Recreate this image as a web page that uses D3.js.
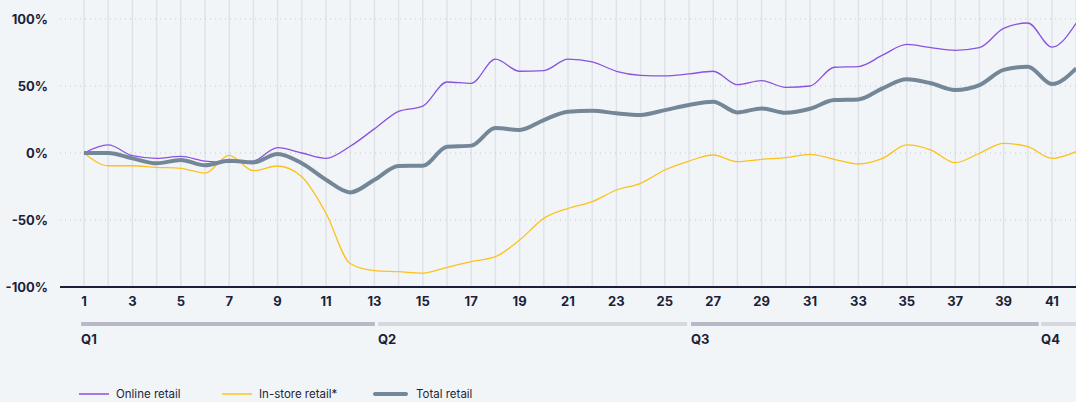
<!DOCTYPE html>
<html>
<head>
<meta charset="utf-8">
<script src="https://cdn.jsdelivr.net/npm/d3@7"></script>
<style>
  html, body { margin: 0; padding: 0; background: #f2f5f8; }
  body { font-family: Inter, "Noto Sans", sans-serif; }
</style>
</head>
<body>
<div id="chart"></div>
<script>
// weeks and series values (% change)
var weeks = d3.range(1, 43);
var online = [0, 6, -2, -4, -2.5, -6, -7, -6, 4, 0, -4, 5, 18, 31, 35, 53, 52, 70, 61, 61.5, 70, 68, 61, 58, 57.5, 59,
  61, 51, 54, 49, 50, 64, 64.5, 73, 81, 78.6, 76.6, 78.6, 93, 97, 79, 97];
var instore = [0, -9.5, -9.5, -10.7, -11.4, -15, -1.7, -13.2, -9.7, -17.7, -45, -82.5, -87.8, -88.6, -89.6, -85.3, -81, -77.4, -65, -48.8, -41.3, -36.3, -27.6, -22.6, -12.7, -6,
  -1.5, -6.5, -4.7, -3.5, -1, -4.7, -8.2, -4, 6, 2.2, -7.2, -0.2, 7.2, 4.7, -4, 1];
var total = [0, 0, -4, -7.7, -5.2, -9.2, -5.7, -7, -0.7, -7.7, -20, -29.4, -20, -9.7, -9.5, 4.7, 5.5, 18.7, 17.2, 24.6, 30.8, 31.6, 29.6, 28.4, 32, 35.8,
  38.3, 30.3, 33.3, 30, 33, 39.5, 40, 48.3, 55, 52, 47, 50.7, 62, 64.4, 51.5, 63.2];
var yTicks = [100, 50, 0, -50, -100];
var quarters = ["Q1", "Q2", "Q3", "Q4"];
var qStart = [0.88, 13.15, 26.08, 40.55];
var qEnd = [13.02, 25.92, 40.45, 53];
var seriesNames = ["Online retail", "In-store retail*", "Total retail"];

var width = 1076, height = 402;
var colors = ["#8a52e0", "#fcc21b", "#748799"];
var widths = [1.3, 1.3, 4];

var svg = d3.select("#chart").append("svg")
  .attr("width", width).attr("height", height)
  .style("display", "block");

var x = d3.scaleLinear().domain([1, 42]).range([84, 1076.2]);
var y = d3.scaleLinear().domain([-100, 100]).range([287, 19]);

// vertical grid lines, one per week
svg.append("g").selectAll("line")
  .data(weeks)
  .join("line")
  .attr("x1", d => x(d)).attr("x2", d => x(d))
  .attr("y1", 0).attr("y2", y(-100))
  .attr("stroke", "#dfe2e8")
  .attr("stroke-width", 1.5);

// dotted horizontal grid
svg.append("g").selectAll("line")
  .data(yTicks.filter(d => d > -100))
  .join("line")
  .attr("x1", 60).attr("x2", width)
  .attr("y1", d => y(d)).attr("y2", d => y(d))
  .attr("stroke", "#c3c8d1")
  .attr("stroke-width", 1)
  .attr("stroke-dasharray", "1,4");

// y labels
svg.append("g").selectAll("text")
  .data(yTicks)
  .join("text")
  .attr("x", 48).attr("y", d => y(d))
  .attr("dy", "0.35em")
  .attr("text-anchor", "end")
  .attr("font-size", 13).attr("font-weight", 700)
  .attr("fill", "#1b1f3a")
  .text(d => d + "%");

// x axis line
svg.append("line")
  .attr("x1", 60).attr("x2", width)
  .attr("y1", y(-100)).attr("y2", y(-100))
  .attr("stroke", "#1b1f3a").attr("stroke-width", 2);

// x labels (odd weeks)
svg.append("g").selectAll("text")
  .data(weeks.filter(d => d % 2 == 1))
  .join("text")
  .attr("x", d => x(d)).attr("y", 301)
  .attr("dy", "0.35em")
  .attr("text-anchor", "middle")
  .attr("font-size", 13).attr("font-weight", 700)
  .attr("fill", "#1b1f3a")
  .text(d => d);

// quarter bars
svg.append("g").selectAll("rect")
  .data(quarters)
  .join("rect")
  .attr("x", (d, i) => x(qStart[i]))
  .attr("width", (d, i) => x(qEnd[i]) - x(qStart[i]))
  .attr("y", 322).attr("height", 4)
  .attr("fill", (d, i) => i % 2 == 0 ? "#b7b9c6" : "#d5d8df");

svg.append("g").selectAll("text")
  .data(quarters)
  .join("text")
  .attr("x", (d, i) => x(qStart[i]))
  .attr("y", 339).attr("dy", "0.35em")
  .attr("font-size", 13).attr("font-weight", 700)
  .attr("fill", "#1b1f3a")
  .text(d => d);

// lines
var line = d3.line()
  .x((d, i) => x(weeks[i]))
  .y(d => y(d))
  .curve(d3.curveMonotoneX);

[online, instore, total].forEach(function(s, k) {
  svg.append("path")
    .datum(s)
    .attr("fill", "none")
    .attr("stroke", colors[k])
    .attr("stroke-width", widths[k])
    .attr("stroke-linejoin", "round")
    .attr("d", line);
});

// legend
var legX = [79, 222, 375];
var leg = svg.append("g").selectAll("g")
  .data(seriesNames)
  .join("g")
  .attr("transform", (d, i) => `translate(${legX[i]},394)`);
leg.append("line")
  .attr("x1", 0).attr("x2", (d, i) => i == 2 ? 31 : 30)
  .attr("stroke", (d, i) => colors[i])
  .attr("stroke-width", (d, i) => i == 2 ? 4 : 1.5)
  .attr("stroke-linecap", (d, i) => i == 2 ? "round" : "butt");
leg.append("text")
  .attr("x", (d, i) => i == 2 ? 41 : 37)
  .attr("dy", "0.35em")
  .attr("font-size", 11.5)
  .attr("fill", "#22263a")
  .text(d => d);
</script>
</body>
</html>
